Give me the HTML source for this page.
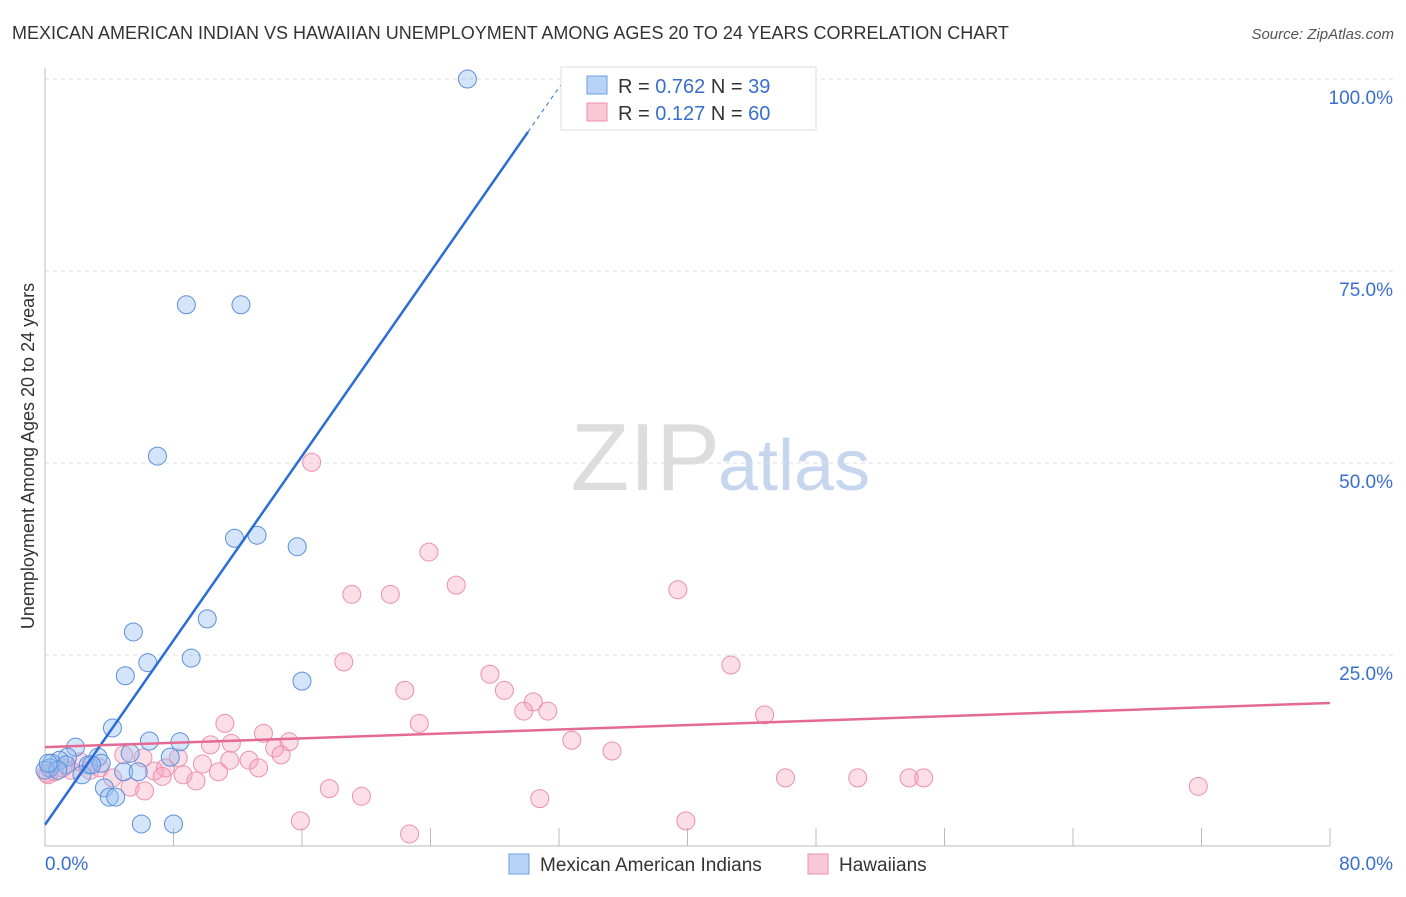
<!DOCTYPE html>
<html><head><meta charset="utf-8"><style>
body{margin:0;background:#fff;font-family:"Liberation Sans",sans-serif}
svg text{font-family:"Liberation Sans",sans-serif}
</style></head><body>
<svg width="1406" height="892">
<text x="12" y="39" font-size="18" fill="#333">MEXICAN AMERICAN INDIAN VS HAWAIIAN UNEMPLOYMENT AMONG AGES 20 TO 24 YEARS CORRELATION CHART</text>
<text x="1394" y="39" font-size="15" fill="#555" font-style="italic" text-anchor="end">Source: ZipAtlas.com</text>
<text x="720" y="490" font-size="96" fill="#ddd" text-anchor="end" font-family="Liberation Serif">ZIP</text>
<text x="718" y="490" font-size="72" fill="#c5d6ee">atlas</text>
<text transform="translate(34,456) rotate(-90)" font-size="18" fill="#333" text-anchor="middle">Unemployment Among Ages 20 to 24 years</text>
<g id="grid"></g><g id="axes"></g><g id="pts"></g><g id="lines"></g>
<g>
<rect x="561" y="67" width="255" height="63" fill="#fff" stroke="#ddd"/>
<rect x="587" y="76" width="20" height="18" fill="#b8d3f5" stroke="#6a9fe0"/>
<text x="618" y="93" font-size="20" fill="#333">R = <tspan fill="#3a6fd0">0.762</tspan>   N = <tspan fill="#3a6fd0">39</tspan></text>
<rect x="587" y="103" width="20" height="18" fill="#f9c8d6" stroke="#ee8fae"/>
<text x="618" y="120" font-size="20" fill="#333">R = <tspan fill="#3a6fd0"> 0.127</tspan>   N = <tspan fill="#3a6fd0">60</tspan></text>
</g>
<g>
<rect x="509" y="854" width="20" height="20" fill="#b8d3f5" stroke="#6a9fe0"/>
<text x="540" y="871" font-size="19" fill="#333">Mexican American Indians</text>
<rect x="808" y="854" width="20" height="20" fill="#f9c8d6" stroke="#ee8fae"/>
<text x="839" y="871" font-size="19" fill="#333">Hawaiians</text>
</g>
</svg>
<script>
const xTicks=[0,80];
const yTicks=[25,50,75,100];
const blueX=[26.3,8.8,12.2,7.0,11.8,13.2,15.7,5.5,10.1,6.4,9.1,5.0,16.0,4.2,6.5,8.4,1.9,5.3,7.8,3.3,1.4,0.9,0.4,2.7,3.5,4.9,5.8,2.3,3.7,4.0,4.4,6.0,8.0,0.3,0,2.9,1.3,0.8,0.2];
const blueY=[100,70.6,70.6,50.9,40.2,40.6,39.1,28.0,29.7,24.0,24.6,22.3,21.6,15.5,13.8,13.7,13.0,12.2,11.7,11.7,11.7,11.3,10.9,10.7,10.9,9.8,9.8,9.4,7.7,6.5,6.5,3.0,3.0,10.3,10.0,10.7,10.7,10.0,10.9];
const pinkX=[16.6,23.9,25.6,39.4,19.1,21.5,18.6,42.7,27.7,22.4,28.6,30.4,29.8,31.3,44.8,11.2,23.3,13.6,32.8,15.2,10.3,11.6,14.3,35.3,14.7,4.9,6.1,8.3,11.5,12.7,9.8,13.3,7.5,6.8,10.8,8.6,7.3,4.2,46.1,50.6,53.8,54.7,9.4,71.8,5.3,6.2,17.7,19.7,30.8,15.9,39.9,22.7,0.6,0.2,1.6,1.1,2.8,3.4,2.2,0.1];
const pinkY=[50.1,38.4,34.1,33.5,32.9,32.9,24.1,23.7,22.5,20.4,20.4,18.9,17.7,17.7,17.2,16.1,16.1,14.8,13.9,13.7,13.3,13.5,12.9,12.5,12.0,12.0,11.6,11.6,11.3,11.3,10.8,10.3,10.3,9.9,9.8,9.4,9.2,9.0,9.0,9.0,9.0,9.0,8.6,7.9,7.8,7.3,7.6,6.6,6.3,3.4,3.4,1.7,9.8,9.4,10.0,10.3,10.0,10.3,11.1,9.6];
const blueFit=[2.9,3.0];   // intercept, slope
const pinkFit=[13.0,0.0719];
const sx=v=>45+v/80*1285, sy=v=>847-v/25*192;
const NS='http://www.w3.org/2000/svg';
function mk(p,t,a){const e=document.createElementNS(NS,t);for(const k in a)e.setAttribute(k,a[k]);document.getElementById(p).appendChild(e);return e;}
yTicks.forEach(t=>{
 const l=mk('grid','line',{x1:45,x2:1394,y1:sy(t),y2:sy(t),stroke:'#ddd','stroke-dasharray':'4,4'});
 
 
 const tx=mk('grid','text',{x:1393,y:sy(t)+25,'font-size':19,fill:'#3a6fd0','text-anchor':'end'});
 tx.textContent=t.toFixed(1)+'%';
 
 
});
const a1=mk('axes','line',{x1:45,x2:45,y1:68,y2:846,stroke:'#bbb'});


const a2=mk('axes','line',{x1:45,x2:1330,y1:846,y2:846,stroke:'#bbb'});


for(let i=1;i<=10;i++){const tk=mk('axes','line',{x1:sx(i*8),x2:sx(i*8),y1:828,y2:846,stroke:'#bbb'});
 
 }
xTicks.forEach((t,i)=>{const tx=mk('axes','text',{x:i?1393:45,y:870,'font-size':19,fill:'#3a6fd0','text-anchor':i?'end':'start'});
 tx.textContent=t.toFixed(1)+'%';
 
 });
pinkX.forEach((x,i)=>{const c=mk('pts','circle',{cx:sx(x),cy:sy(pinkY[i]),r:9,fill:'rgba(245,160,185,0.35)',stroke:'#ee8fae','stroke-width':1});
 
 });
blueX.forEach((x,i)=>{const c=mk('pts','circle',{cx:sx(x),cy:sy(blueY[i]),r:9,fill:'rgba(150,190,240,0.4)',stroke:'#5b8fdc','stroke-width':1});
 
 });
const bl=mk('lines','line',{x1:sx(0),y1:sy(blueFit[0]),x2:sx(30.07),y2:sy(blueFit[0]+blueFit[1]*30.07),stroke:'#2a6dd6','stroke-width':2.5});


const bd=mk('lines','line',{x1:sx(30.07),y1:sy(blueFit[0]+blueFit[1]*30.07),x2:sx(32.1),y2:sy(blueFit[0]+blueFit[1]*32.1),stroke:'#2a6dd6','stroke-width':1,'stroke-dasharray':'4,4'});


const pl=mk('lines','line',{x1:sx(0),y1:sy(pinkFit[0]),x2:sx(80),y2:sy(pinkFit[0]+pinkFit[1]*80),stroke:'#e56a93','stroke-width':2.5});


</script>
</body></html>
